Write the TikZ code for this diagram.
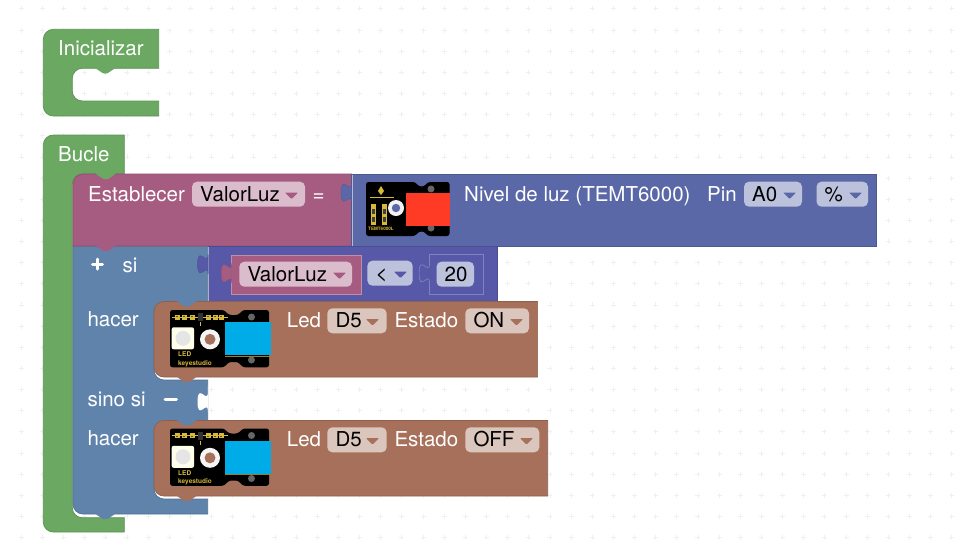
\documentclass[tikz,border=0pt]{standalone}
\usepackage{fontspec}
\setmainfont{TeX Gyre Heros}
\definecolor{cgreen}{HTML}{6BA963}
\definecolor{cpurple}{HTML}{A65C81}
\definecolor{cblue}{HTML}{5F83AB}
\definecolor{cbrown}{HTML}{A6705B}
\definecolor{cinput}{HTML}{5B68A8}
\definecolor{ccomp}{HTML}{5759A8}
\definecolor{fpurple}{HTML}{DBBCCC}
\definecolor{finput}{HTML}{BDC2DC}
\definecolor{fbrown}{HTML}{DBC6BD}
\definecolor{dotc}{HTML}{F0F0F0}
\definecolor{ledblue}{HTML}{00ACE8}
\definecolor{sensred}{HTML}{FF3B25}
\definecolor{pcbyellow}{HTML}{D9B93A}
\tikzset{
  lab/.style={inner sep=0pt,anchor=base west,text=white,font=\fontsize{20.5}{24}\selectfont},
  fieldtxt/.style={inner sep=0pt,anchor=base west,text=black,font=\fontsize{20.5}{24}\selectfont},
  tinylab/.style={inner sep=0pt,anchor=base west,text=pcbyellow,font=\fontsize{#1}{8}\selectfont\bfseries},
  blk/.style={fill=#1,draw=#1!86!black,line width=0.7pt},
  hi/.style={draw=white,line width=0.6pt,opacity=.55}
}
% puzzle tab: right edge x, start y
\newcommand{\tabshape}[3]{\path[fill=#3,draw=#3!90!black,line width=0.5pt] (#1,{#2+6.5}) .. controls (#1,{#2+19.5}) and ({#1-10.4},{#2-3.9}) .. ({#1-10.4},{#2+16.25}) .. controls ({#1-10.4},{#2+36.4}) and (#1,{#2+13}) .. (#1,{#2+26}) -- cycle;}
% vertical notch: left x, y, colour
\newcommand{\notch}[3]{\fill[#3,rounded corners=1pt] (#1,{#2-1}) -- (#1,#2) -- ({#1+7.8},{#2+5.2}) -- ({#1+11.7},{#2+5.2}) -- ({#1+19.5},#2) -- ({#1+19.5},{#2-1}) -- cycle;}
% dropdown arrow
\newcommand{\darrow}[3]{\fill[#3,rounded corners=0.8pt] (#1,#2) -- ({#1+13},#2) -- ({#1+6.5},{#2+6.5}) -- cycle;}
% field: x1 x2 y colour name text
\newcommand{\fieldbox}[6]{\fill[#4,rounded corners=5pt] (#1,#3) rectangle (#2,{#3+25});
  \node[fieldtxt] (#5) at ({#1+8},{#3+19.4}) {#6};}
% LED board: name, y offset
\newcommand{\ledboard}[2]{\begin{scope}[shift={(0,#2)}]
  \fill[black,rounded corners=2.5pt] (170,310) -- (224,310) -- (229,315) -- (238,315) -- (243,310) -- (269,310) -- (269,367.3) -- (243,367.3) -- (238,362) -- (229,362) -- (224,367.3) -- (170,367.3) -- cycle;
  \foreach \px in {177,184,192,208,215,221}{\fill[pcbyellow] ({\px-2.5},314.5) rectangle ({\px+2.5},319.5); \fill[black!70] ({\px-1},316) rectangle ({\px+1},318);}
  \draw[pcbyellow,line width=0.5pt] (172,317) -- (228,317);
  \fill[black!80] (198,313) rectangle (203,321);
  \draw[pcbyellow,line width=0.4pt] (200,322) -- (200,326);
  \fill[white!92!yellow,rounded corners=2pt] (171.7,327.3) rectangle (194,349.3);
  \fill[white!80!gray] (183,338.3) circle (7.5);
  \fill[white!92!gray] (210,339.3) circle (10);
  \fill[cbrown] (210,339.3) circle (5.5);
  \fill[black!60] (251.5,317) circle (3.5);
  \fill[black!60] (251.5,360) circle (3.5);
  \fill[ledblue] (225.3,322.3) rectangle (271,355);
  \draw[pcbyellow!70!black,line width=0.6pt] (225.3,356) -- (271,356);
  \node[tinylab=6.5] (#1a) at (178,356.7) {LED};
  \node[tinylab=6.5] (#1b) at (178,365) {keyestudio};
\end{scope}}
\begin{document}
\begin{tikzpicture}[x=1pt,y=-1pt]
\useasboundingbox (0,0) rectangle (966,558);
\fill[white] (0,0) rectangle (966,558);
% grid
\foreach \i in {1,...,45}{\foreach \j in {0,...,25}{
  \draw[dotc,line width=0.8pt] ({\i*21.15-2.5},{8.85+\j*21.15}) -- ({\i*21.15+2.5},{8.85+\j*21.15}) ({\i*21.15},{6.35+\j*21.15}) -- ({\i*21.15},{11.35+\j*21.15});
}}
% Inicializar
\path[blk=cgreen] (53.3,29.3) -- (158.7,29.3) -- (158.7,68.3) -- (82.3,68.3) arc (270:180:10) -- (72.3,91) arc (180:90:10) -- (158.7,101) -- (158.7,116) -- (53.3,116) arc (90:180:10) -- (43.3,39.3) arc (180:270:10) -- cycle;
\notch{95.5}{68.3}{cgreen}
\node[lab] (ini) at (58,55.7) {Inicializar};
% Bucle
\path[blk=cgreen] (53.3,135) -- (124.3,135) -- (124.3,174) -- (82.3,174) arc (270:180:10) -- (72.3,507.7) arc (180:90:10) -- (124.3,517.7) -- (124.3,532) -- (53.3,532) arc (90:180:10) -- (43.3,145) arc (180:270:10) -- cycle;
\node[lab] (bucle) at (58,161.7) {Bucle};
% si block
\path[blk=cblue] (73,246) -- (207.7,246) -- (207.7,310) -- (154,310) -- (154,370) arc (180:90:10) -- (207.7,380) -- (207.7,430) -- (154,430) -- (154,489) arc (180:90:10) -- (207.7,499) -- (207.7,514) -- (83,514) arc (90:180:10) -- cycle;
\notch{95.5}{514}{cblue}
% Establecer
\path[blk=cpurple] (83,174) -- (351.5,174) -- (351.5,246) -- (73,246) -- (73,184) arc (180:270:10) -- cycle;
\notch{96}{174}{cgreen}
\notch{96}{246}{cpurple}
\node[lab] (est) at (88,201) {Establecer};
\fieldbox{192}{305}{181.7}{fpurple}{var1}{ValorLuz}
\darrow{285}{192.5}{cpurple}
\node[lab] (eq) at (312.5,201) {=};
% Nivel de luz
\path[blk=cinput] (351.5,174.5) -- (876.5,174.5) -- (876.5,246.5) -- (351.5,246.5) -- cycle;
\draw[hi] (351.8,174.8) -- (351.8,246);
\tabshape{351.5}{176.5}{cinput}
\fill[black,rounded corners=2.5pt] (366,182) -- (415,182) -- (419,186.5) -- (424,186.5) -- (428,182) -- (449.5,182) -- (449.5,236) -- (428,236) -- (424,231.5) -- (419,231.5) -- (415,236) -- (366,236) -- cycle;
\fill[pcbyellow] (381,186) -- (384,191) -- (381,195) -- (378,191) -- cycle;
\draw[pcbyellow,line width=0.5pt] (370,197) -- (394,197);
\foreach \px in {371,382}{\fill[pcbyellow] (\px,204) rectangle ({\px+5},225);\fill[black!75] ({\px+1},209) rectangle ({\px+4},214);\fill[black!75] ({\px+1},217) rectangle ({\px+4},222);}
\node[tinylab=4.6] (sens) at (368,230.5) {TEMT6000L};
\fill[white!90!gray] (396,208) circle (8);
\fill[cinput] (396,208) circle (4.2);
\fill[black!60] (431,189) circle (3.5);
\fill[black!60] (431,228) circle (3.5);
\fill[sensred] (405.6,192.7) rectangle (449.5,225.7);
\node[lab] (niv) at (464,201) {Nivel de luz (TEMT6000)};
\node[lab] (pin) at (707,201) {Pin};
\fieldbox{744}{802}{181.7}{finput}{a0}{A0}
\darrow{783}{192.5}{cinput}
\fieldbox{816.5}{868}{181.7}{finput}{pct}{\%}
\darrow{849}{192.5}{cinput}
% si labels
\draw[white,line width=3pt,line cap=round] (92.5,264) -- (102.5,264) (97.5,259) -- (97.5,269);
\node[lab] (si) at (122.5,272.5) {si};
\node[lab] (hac1) at (87.3,326.7) {hacer};
% compare
\path[blk=ccomp] (208,246.5) -- (497.5,246.5) -- (497.5,302) -- (208,302) -- cycle;
\draw[hi] (208.3,247) -- (208.3,301);
\tabshape{208}{248}{ccomp}
% var block
\path[fill=cpurple,draw=white!30!cpurple,line width=0.9pt] (231.7,255) -- (361,255) -- (361,294.3) -- (231.7,294.3) -- cycle;
\tabshape{231.7}{257}{cpurple}
\fieldbox{239.3}{352}{261.7}{fpurple}{var2}{ValorLuz}
\darrow{333}{272.5}{cpurple}
\fieldbox{367.4}{412.6}{260.7}{finput}{lt}{<}
\darrow{394}{271.5}{ccomp}
% 20 block
\path[fill=ccomp,draw=white!25!ccomp,line width=0.9pt] (429.5,254.5) -- (483,254.5) -- (483,294.5) -- (429.5,294.5) -- cycle;
\tabshape{429.5}{257}{ccomp}
\draw[white!25!ccomp,line width=0.7pt] (429.5,263.5) .. controls (429.5,276.5) and (419.1,253.1) .. (419.1,273.25) .. controls (419.1,293.4) and (429.5,270) .. (429.5,283);
\fieldbox{436.5}{474}{261.7}{finput}{num}{20}
% Led 1
\path[blk=cbrown] (164,301.5) -- (537.6,301.5) -- (537.6,377) -- (164,377) arc (90:180:10) -- (154,311.5) arc (180:270:10) -- cycle;
\notch{177}{301.5}{cblue}
\notch{177}{377}{cbrown}
\ledboard{la}{0}
\node[lab] (led1) at (286.7,327.3) {Led};
\fieldbox{327.3}{386.7}{308.3}{fbrown}{d1}{D5}
\darrow{366}{319}{cbrown}
\node[lab] (es1) at (394.3,327.3) {Estado};
\fieldbox{465.3}{529}{308.3}{fbrown}{on}{ON}
\darrow{510}{319}{cbrown}
% sino si
\node[lab] (sino) at (87.3,406) {sino si};
\draw[white,line width=3pt,line cap=round] (165,399) -- (176.5,399);
\path[fill=white] (207.9,385.5) -- (207.9,392) .. controls (207.9,405) and (197.5,381.6) .. (197.5,401.75) .. controls (197.5,421.9) and (207.9,398.5) .. (207.9,411.5) -- cycle;
\node[lab] (hac2) at (87.3,445) {hacer};
% Led 2
\path[blk=cbrown] (164,420.5) -- (547.7,420.5) -- (547.7,496) -- (164,496) arc (90:180:10) -- (154,430.5) arc (180:270:10) -- cycle;
\notch{177}{420.5}{cblue}
\notch{177}{496}{cbrown}
\ledboard{lb}{118.5}
\node[lab] (led2) at (286.7,446) {Led};
\fieldbox{327.3}{386.7}{427.3}{fbrown}{d2}{D5}
\darrow{366}{438}{cbrown}
\node[lab] (es2) at (394.3,446) {Estado};
\fieldbox{465.3}{539.3}{427.3}{fbrown}{off}{OFF}
\darrow{520}{438}{cbrown}
\end{tikzpicture}
\end{document}
